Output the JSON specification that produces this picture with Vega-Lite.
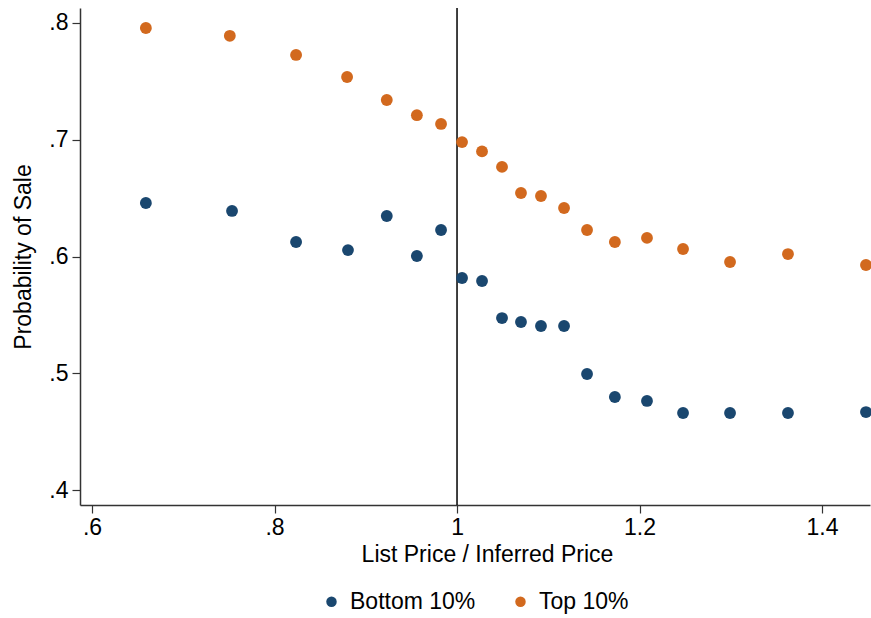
{
  "$schema": "https://vega.github.io/schema/vega-lite/v6.json",
  "autosize": {"type": "none"},
  "width": 790,
  "height": 497,
  "padding": {"left": 80, "top": 8, "right": 1, "bottom": 113},
  "background": "white",
  "config": {
    "font": "Liberation Sans",
    "view": {"stroke": null},
    "axis": {"grid": false, "domainColor": "#333333", "tickColor": "#333333", "labelColor": "#000000", "titleColor": "#000000", "labelFontSize": 23, "titleFontSize": 23, "titleFontWeight": "normal", "domainWidth": 1.5, "tickWidth": 1.2}
  },
  "datasets": {
    "pts": [
      {"ratio": 0.659, "prob": 0.7957, "group": "Top 10%"},
      {"ratio": 0.751, "prob": 0.789, "group": "Top 10%"},
      {"ratio": 0.8236, "prob": 0.7726, "group": "Top 10%"},
      {"ratio": 0.8795, "prob": 0.7537, "group": "Top 10%"},
      {"ratio": 0.923, "prob": 0.734, "group": "Top 10%"},
      {"ratio": 0.956, "prob": 0.721, "group": "Top 10%"},
      {"ratio": 0.9825, "prob": 0.7135, "group": "Top 10%"},
      {"ratio": 1.0055, "prob": 0.698, "group": "Top 10%"},
      {"ratio": 1.0274, "prob": 0.690, "group": "Top 10%"},
      {"ratio": 1.0493, "prob": 0.6767, "group": "Top 10%"},
      {"ratio": 1.0701, "prob": 0.6544, "group": "Top 10%"},
      {"ratio": 1.092, "prob": 0.6518, "group": "Top 10%"},
      {"ratio": 1.1173, "prob": 0.6415, "group": "Top 10%"},
      {"ratio": 1.1425, "prob": 0.6227, "group": "Top 10%"},
      {"ratio": 1.173, "prob": 0.6124, "group": "Top 10%"},
      {"ratio": 1.2082, "prob": 0.6159, "group": "Top 10%"},
      {"ratio": 1.2477, "prob": 0.6064, "group": "Top 10%"},
      {"ratio": 1.2992, "prob": 0.5953, "group": "Top 10%"},
      {"ratio": 1.3627, "prob": 0.6021, "group": "Top 10%"},
      {"ratio": 1.4482, "prob": 0.5927, "group": "Top 10%"},
      {"ratio": 0.659, "prob": 0.6458, "group": "Bottom 10%"},
      {"ratio": 0.7534, "prob": 0.639, "group": "Bottom 10%"},
      {"ratio": 0.8236, "prob": 0.6124, "group": "Bottom 10%"},
      {"ratio": 0.8805, "prob": 0.6055, "group": "Bottom 10%"},
      {"ratio": 0.923, "prob": 0.6347, "group": "Bottom 10%"},
      {"ratio": 0.956, "prob": 0.6004, "group": "Bottom 10%"},
      {"ratio": 0.9825, "prob": 0.6227, "group": "Bottom 10%"},
      {"ratio": 1.0055, "prob": 0.5816, "group": "Bottom 10%"},
      {"ratio": 1.0274, "prob": 0.579, "group": "Bottom 10%"},
      {"ratio": 1.0493, "prob": 0.5473, "group": "Bottom 10%"},
      {"ratio": 1.0701, "prob": 0.5439, "group": "Bottom 10%"},
      {"ratio": 1.092, "prob": 0.5405, "group": "Bottom 10%"},
      {"ratio": 1.1173, "prob": 0.5405, "group": "Bottom 10%"},
      {"ratio": 1.1425, "prob": 0.4994, "group": "Bottom 10%"},
      {"ratio": 1.173, "prob": 0.4797, "group": "Bottom 10%"},
      {"ratio": 1.2082, "prob": 0.4763, "group": "Bottom 10%"},
      {"ratio": 1.2477, "prob": 0.466, "group": "Bottom 10%"},
      {"ratio": 1.2992, "prob": 0.466, "group": "Bottom 10%"},
      {"ratio": 1.3627, "prob": 0.466, "group": "Bottom 10%"},
      {"ratio": 1.4482, "prob": 0.4668, "group": "Bottom 10%"}
    ],
    "vline": [{"ratio": 1}]
  },
  "layer": [
    {
      "data": {"name": "vline"},
      "mark": {"type": "rule", "color": "#000000", "strokeWidth": 1.5},
      "encoding": {
        "x": {"field": "ratio", "type": "quantitative", "scale": {"domain": [0.5868, 1.4526], "nice": false, "zero": false}}
      }
    },
    {
      "data": {"name": "pts"},
      "mark": {"type": "point", "shape": "circle", "filled": true, "opacity": 1, "size": 140},
      "encoding": {
        "x": {
          "field": "ratio", "type": "quantitative",
          "scale": {"domain": [0.5868, 1.4526], "nice": false, "zero": false},
          "axis": {"title": "List Price / Inferred Price", "values": [0.6, 0.8, 1.0, 1.2, 1.4], "tickSize": 8, "labelPadding": 3, "titlePadding": 4, "titleX": 407,
                   "labelExpr": "datum.value == 1 ? '1' : (datum.value < 1 ? replace(format(datum.value, '.1f'), '0.', '.') : format(datum.value, '.1f'))"}
        },
        "y": {
          "field": "prob", "type": "quantitative",
          "scale": {"domain": [0.3872, 0.8128], "nice": false, "zero": false},
          "axis": {"title": "Probability of Sale", "values": [0.4, 0.5, 0.6, 0.7, 0.8], "tickSize": 8, "labelPadding": 4, "titlePadding": 13,
                   "labelExpr": "replace(format(datum.value, '.1f'), '0.', '.')"}
        },
        "color": {
          "field": "group", "type": "nominal",
          "scale": {"domain": ["Bottom 10%", "Top 10%"], "range": ["#1a476f", "#d2691e"]},
          "legend": {"title": null, "orient": "none", "direction": "horizontal", "legendX": 240, "legendY": 582, "labelFontSize": 23, "labelColor": "#000000", "symbolSize": 110, "symbolType": "circle", "columnPadding": 33, "labelOffset": 7}
        }
      }
    }
  ]
}
